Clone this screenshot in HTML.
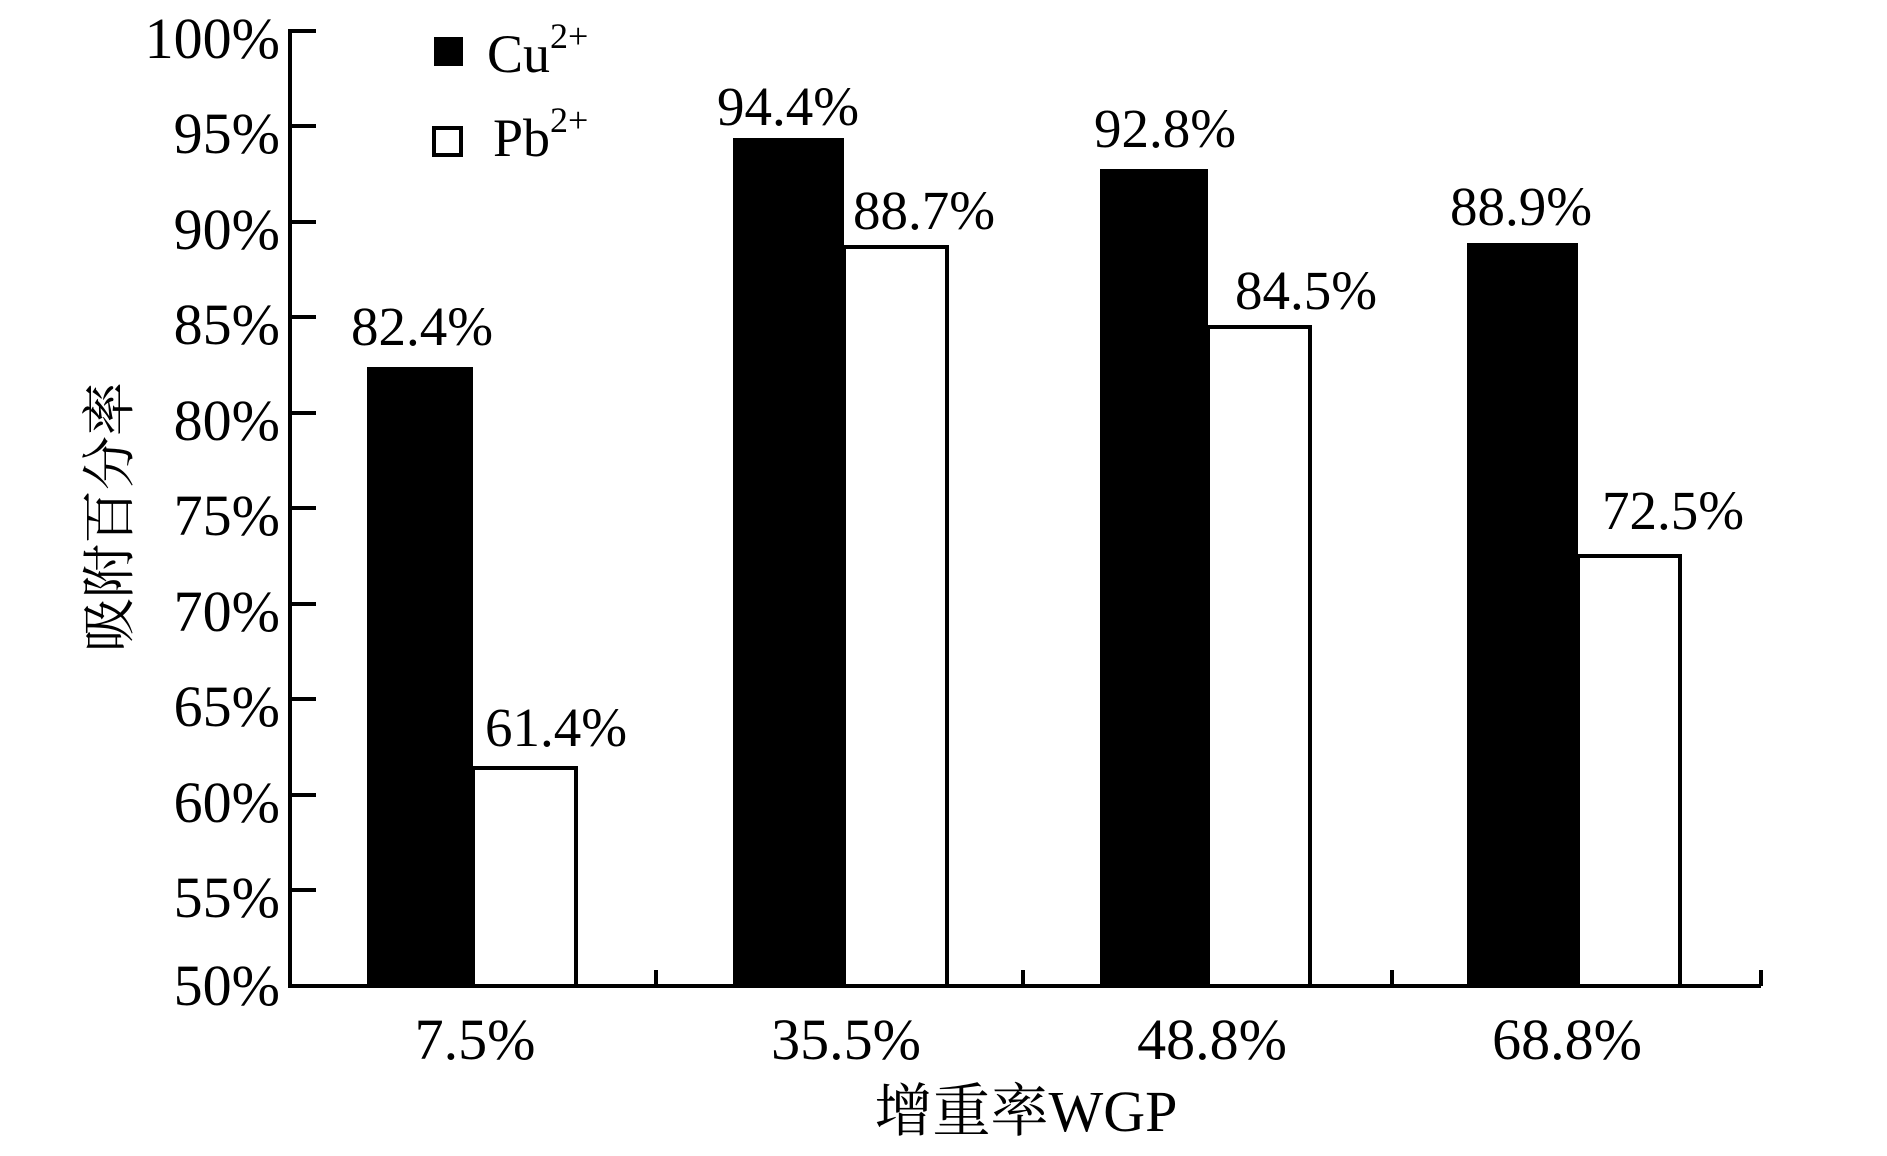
<!DOCTYPE html>
<html><head><meta charset="utf-8"><style>
html,body{margin:0;padding:0;background:#fff;}
svg{display:block;}
text{font-family:"Liberation Serif","Noto Serif CJK SC",serif;fill:#000;}
</style></head><body>
<svg width="1887" height="1156" viewBox="0 0 1887 1156">
<g stroke="#000" stroke-width="4" fill="none">
<line x1="290" y1="29" x2="290" y2="988"/>
<line x1="288" y1="986" x2="1761" y2="986"/>
<line x1="290" y1="31" x2="316" y2="31"/>
<line x1="290" y1="126" x2="316" y2="126"/>
<line x1="290" y1="222" x2="316" y2="222"/>
<line x1="290" y1="317" x2="316" y2="317"/>
<line x1="290" y1="413" x2="316" y2="413"/>
<line x1="290" y1="508" x2="316" y2="508"/>
<line x1="290" y1="604" x2="316" y2="604"/>
<line x1="290" y1="699" x2="316" y2="699"/>
<line x1="290" y1="795" x2="316" y2="795"/>
<line x1="290" y1="890" x2="316" y2="890"/>
<line x1="656" y1="986" x2="656" y2="970"/>
<line x1="1023" y1="986" x2="1023" y2="970"/>
<line x1="1392" y1="986" x2="1392" y2="970"/>
<line x1="1761" y1="986" x2="1761" y2="970"/>
</g>
<g font-size="58" text-anchor="end">
<text x="280" y="58">100%</text>
<text x="280" y="153">95%</text>
<text x="280" y="249">90%</text>
<text x="280" y="344">85%</text>
<text x="280" y="440">80%</text>
<text x="280" y="535">75%</text>
<text x="280" y="631">70%</text>
<text x="280" y="726">65%</text>
<text x="280" y="822">60%</text>
<text x="280" y="917">55%</text>
<text x="280" y="1005">50%</text>
</g>
<g fill="#000">
<rect x="367" y="367" width="106" height="619"/>
<rect x="733" y="138" width="111" height="848"/>
<rect x="1100" y="169" width="108" height="817"/>
<rect x="1467" y="243" width="111" height="743"/>
</g>
<g fill="#fff" stroke="#000" stroke-width="4">
<rect x="473" y="768" width="103" height="218"/>
<rect x="844" y="247" width="103" height="739"/>
<rect x="1208" y="327" width="102" height="659"/>
<rect x="1578" y="556" width="102" height="430"/>
</g>
<g font-size="55" text-anchor="middle">
<text x="422" y="345">82.4%</text>
<text x="556" y="746">61.4%</text>
<text x="788" y="125">94.4%</text>
<text x="924" y="229">88.7%</text>
<text x="1165" y="147">92.8%</text>
<text x="1306" y="309">84.5%</text>
<text x="1521" y="225">88.9%</text>
<text x="1673" y="529">72.5%</text>
</g>
<g font-size="58" text-anchor="middle">
<text x="475" y="1059">7.5%</text>
<text x="846" y="1059">35.5%</text>
<text x="1212" y="1059">48.8%</text>
<text x="1567" y="1059">68.8%</text>
<text x="1026" y="1131">增重率WGP</text>
</g>
<text font-size="54" text-anchor="middle" transform="translate(128,517) rotate(-90)">吸附百分率</text>
<rect x="434" y="37" width="29" height="29" fill="#000"/>
<rect x="434" y="128" width="27" height="27" fill="#fff" stroke="#000" stroke-width="4"/>
<text x="487" y="72" font-size="54">Cu<tspan font-size="36" dy="-24">2+</tspan></text>
<text x="493" y="156" font-size="54">Pb<tspan font-size="36" dy="-24">2+</tspan></text>
</svg>
</body></html>
